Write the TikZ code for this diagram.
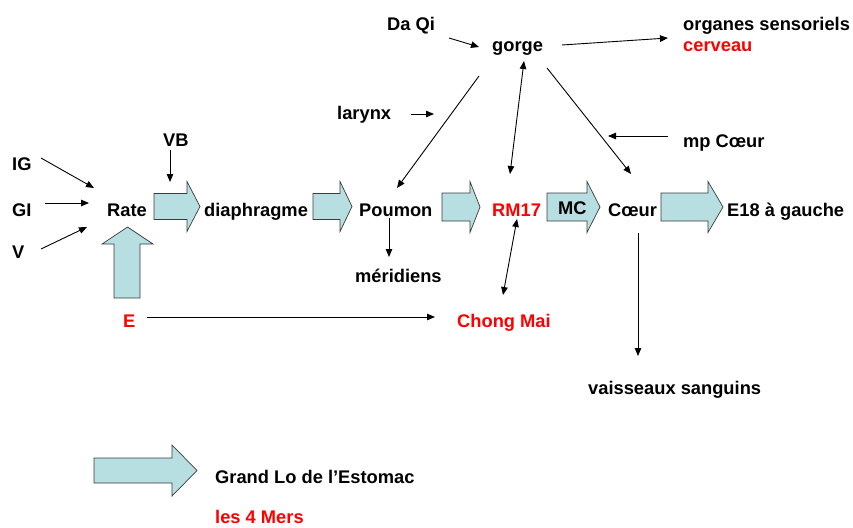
\documentclass[tikz,border=0pt]{standalone}
\usepackage{fontspec}
\setmainfont{Liberation Sans}
\usetikzlibrary{arrows.meta}
\definecolor{blkfill}{RGB}{183,222,225}
\definecolor{blkline}{RGB}{60,60,60}
\definecolor{redtxt}{RGB}{255,0,0}
\tikzset{
  lbl/.style={anchor=base west,inner sep=0pt,font=\fontsize{18.3}{20}\selectfont\bfseries},
  rlbl/.style={lbl,text=redtxt},
  conn/.style={-{Triangle[length=8pt,width=6.5pt]},line width=0.9pt},
  biconn/.style={{Triangle[length=8pt,width=6.5pt]}-{Triangle[length=8pt,width=6.5pt]},line width=0.9pt},
  blk/.style={fill=blkfill,draw=blkline,line width=0.7pt,line join=miter}
}
% horizontal block arrow: shaft left, head start, tip, centre y, shaft half, head half
\newcommand{\hblock}[6]{%
  \draw[blk] (#1,#4-#5) -- (#2,#4-#5) -- (#2,#4-#6) -- (#3,#4) -- (#2,#4+#6) -- (#2,#4+#5) -- (#1,#4+#5) -- cycle;}
\begin{document}
\begin{tikzpicture}[x=1pt,y=-1pt]
\useasboundingbox[fill=white] (0,0) rectangle (853,527);

% block arrows
\hblock{154}{187}{200}{206.5}{13}{25}
\hblock{313}{340}{352}{206.5}{13}{25}
\hblock{442}{470}{480}{207}{14}{25.5}
\hblock{547}{587}{600}{207}{14}{25.5}
\hblock{661}{708}{723}{207}{14}{25.5}
\hblock{94}{172}{197}{470.5}{12.5}{25.5}
% up arrow
\draw[blk] (114,298) -- (114,244) -- (102,244) -- (127.5,227) -- (153,244) -- (140,244) -- (140,298) -- cycle;

% labels
\node[lbl] (ig) at (12,170) {IG};
\node[lbl] (gi) at (12,216) {GI};
\node[lbl] (v) at (12,258) {V};
\node[lbl] (rate) at (107,216) {Rate};
\node[lbl] (vb) at (163,146) {VB};
\node[lbl] (diaph) at (204,216) {diaphragme};
\node[lbl] (poumon) at (359,216) {Poumon};
\node[rlbl] (rm17) at (492,216) {RM17};
\node[lbl] (mc) at (558,214) {MC};
\node[lbl] (coeur) at (608,216) {Cœur};
\node[lbl] (e18) at (727,216) {E18 à gauche};
\node[lbl] (merid) at (355,282) {méridiens};
\node[rlbl] (e) at (123,327) {E};
\node[rlbl] (chong) at (457,327) {Chong Mai};
\node[lbl] (vaiss) at (588,394) {vaisseaux sanguins};
\node[lbl] (grandlo) at (215,483) {Grand Lo de l’Estomac};
\node[rlbl] (mers) at (215,523) {les 4 Mers};
\node[lbl] (daqi) at (387,31) {Da Qi};
\node[lbl] (gorge) at (492,52) {gorge};
\node[lbl] (organes) at (683,31) {organes sensoriels};
\node[rlbl] (cerveau) at (683,52) {cerveau};
\node[lbl] (larynx) at (337,119) {larynx};
\node[lbl] (mpcoeur) at (683,147) {mp Cœur};

% connector end points
\coordinate (ig-s) at (41,158);   \coordinate (ig-t) at (94,188);
\coordinate (gi-s) at (45,203);   \coordinate (gi-t) at (89,203);
\coordinate (v-s) at (41,249);    \coordinate (v-t) at (87,227);
\coordinate (vb-s) at (170,150);  \coordinate (vb-t) at (170,182);
\coordinate (po-s) at (389,218);  \coordinate (po-t) at (389,257);
\coordinate (rm-a) at (517,219);  \coordinate (rm-b) at (503,295);
\coordinate (e-s) at (147,317);   \coordinate (e-t) at (435,317);
\coordinate (co-s) at (638,233);  \coordinate (co-t) at (638,356);
\coordinate (dq-s) at (449,38);   \coordinate (dq-t) at (479,47);
\coordinate (go-s) at (562,45);   \coordinate (go-t) at (668,38);
\coordinate (la-s) at (411,114);  \coordinate (la-t) at (434,114);
\coordinate (gp-s) at (479,76);   \coordinate (gp-t) at (397,188);
\coordinate (gr-a) at (524,61);   \coordinate (gr-b) at (510,174);
\coordinate (gc-s) at (547,68);   \coordinate (gc-t) at (631,174);
\coordinate (mp-s) at (668,136);  \coordinate (mp-t) at (608,136);

\draw[conn] (ig-s) -- (ig-t);
\draw[conn] (gi-s) -- (gi-t);
\draw[conn] (v-s) -- (v-t);
\draw[conn] (vb-s) -- (vb-t);
\draw[conn] (po-s) -- (po-t);
\draw[biconn] (rm-a) -- (rm-b);
\draw[conn] (e-s) -- (e-t);
\draw[conn] (co-s) -- (co-t);
\draw[conn] (dq-s) -- (dq-t);
\draw[conn] (go-s) -- (go-t);
\draw[conn] (la-s) -- (la-t);
\draw[conn] (gp-s) -- (gp-t);
\draw[biconn] (gr-a) -- (gr-b);
\draw[conn] (gc-s) -- (gc-t);
\draw[conn] (mp-s) -- (mp-t);
\end{tikzpicture}
\end{document}
